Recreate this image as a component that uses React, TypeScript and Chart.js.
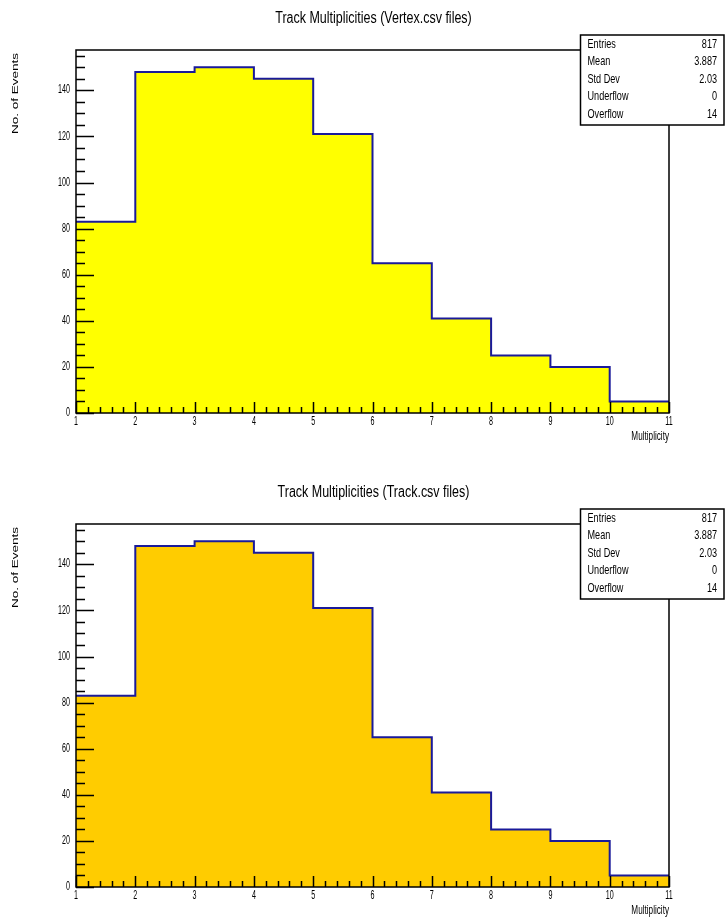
import React, { useEffect, useRef } from 'react';
import { Chart, registerables } from 'chart.js';

Chart.register(...registerables);

// ---------------- data ----------------
const binEdges = [1, 2, 3, 4, 5, 6, 7, 8, 9, 10, 11];
const vertexCounts = [83, 148, 150, 145, 121, 65, 41, 25, 20, 5];
const trackCounts = [83, 148, 150, 145, 121, 65, 41, 25, 20, 5];
const xTickLabels = ['1', '2', '3', '4', '5', '6', '7', '8', '9', '10', '11'];
const yTickLabels = ['0', '20', '40', '60', '80', '100', '120', '140'];
const statLabels = ['Entries', 'Mean', 'Std Dev', 'Underflow', 'Overflow'];
const vertexStats = ['817', '3.887', '2.03', '0', '14'];
const trackStats = ['817', '3.887', '2.03', '0', '14'];
const vertexTitle = 'Track Multiplicities (Vertex.csv files)';
const trackTitle = 'Track Multiplicities (Track.csv files)';
const xAxisTitle = 'Multiplicity';
const yAxisTitle = 'No. of Events';
const yMax = 157.5;
const xMinorDiv = 5;
const yMinorStep = 5;

const FONT = '"Liberation Sans", Arial, Helvetica, sans-serif';

function drawText(
  ctx: CanvasRenderingContext2D,
  text: string,
  x: number,
  y: number,
  size: number,
  align: CanvasTextAlign,
  sx: number,
) {
  ctx.save();
  ctx.translate(x, y);
  ctx.scale(sx, 1);
  ctx.font = `${size}px ${FONT}`;
  ctx.textAlign = align;
  ctx.textBaseline = 'middle';
  ctx.fillStyle = '#000';
  ctx.fillText(text, 0, 0);
  ctx.restore();
}

type HistProps = {
  counts: number[];
  stats: string[];
  title: string;
  fill: string;
  frameTop: number;
  frameBottom: number;
  height: number;
};

function Hist({ counts, stats, title, fill, frameTop, frameBottom, height }: HistProps) {
  const ref = useRef<HTMLCanvasElement | null>(null);

  useEffect(() => {
    if (!ref.current) return;
    const data = binEdges.map((x, i) => ({ x, y: counts[Math.min(i, counts.length - 1)] }));

    const rootPlugin = {
      id: 'rootStyle',
      beforeDraw(chart: any) {
        const ctx = chart.ctx as CanvasRenderingContext2D;
        ctx.save();
        ctx.fillStyle = '#fff';
        ctx.fillRect(0, 0, chart.width, chart.height);
        ctx.restore();
      },
      afterDatasetsDraw(chart: any) {
        const ctx = chart.ctx as CanvasRenderingContext2D;
        const { left, right, top, bottom } = chart.chartArea;
        const xs = chart.scales.x;
        const ys = chart.scales.y;
        ctx.save();
        ctx.strokeStyle = '#000';
        ctx.lineWidth = 1.5;
        ctx.beginPath();
        ctx.rect(left, top, right - left, bottom - top);
        ctx.stroke();

        // x ticks (inside frame)
        const x0 = Number(xTickLabels[0]);
        const x1 = Number(xTickLabels[xTickLabels.length - 1]);
        const nX = (x1 - x0) * xMinorDiv;
        ctx.beginPath();
        for (let i = 0; i <= nX; i++) {
          const v = x0 + i / xMinorDiv;
          const px = Math.round(xs.getPixelForValue(v)) + 0.5;
          const len = i % xMinorDiv === 0 ? 11 : 6;
          ctx.moveTo(px, bottom);
          ctx.lineTo(px, bottom - len);
        }
        // y ticks
        for (let v = 0; v <= yMax; v += yMinorStep) {
          const py = Math.round(ys.getPixelForValue(v)) + 0.5;
          const major = yTickLabels.includes(String(v));
          const len = major ? 18 : 9;
          ctx.moveTo(left, py);
          ctx.lineTo(left + len, py);
        }
        ctx.stroke();
        ctx.restore();

        // tick labels
        xTickLabels.forEach((t) => {
          drawText(ctx, t, xs.getPixelForValue(Number(t)), bottom + 8.5, 13, 'center', 0.55);
        });
        yTickLabels.forEach((t) => {
          drawText(ctx, t, left - 6, ys.getPixelForValue(Number(t)) - 0.5, 13, 'right', 0.55);
        });
      },
      afterDraw(chart: any) {
        const ctx = chart.ctx as CanvasRenderingContext2D;
        const { left, right, top, bottom } = chart.chartArea;
        // title
        drawText(ctx, title, (left + right) / 2 + 1, top - 31, 16, 'center', 0.78);
        // x axis title
        drawText(ctx, xAxisTitle, right, bottom + 24, 12, 'right', 0.68);
        // y axis title
        ctx.save();
        ctx.translate(15.5, top + 3);
        ctx.rotate(-Math.PI / 2);
        ctx.scale(1.5, 1);
        ctx.font = `9px ${FONT}`;
        ctx.textAlign = 'right';
        ctx.textBaseline = 'middle';
        ctx.fillStyle = '#000';
        ctx.fillText(yAxisTitle, 0, 0);
        ctx.restore();

        // stats box
        const bx = 580.5;
        const by = top - 15;
        const bw = 143.5;
        const bh = 90;
        ctx.save();
        ctx.fillStyle = '#fff';
        ctx.fillRect(bx, by, bw, bh);
        ctx.strokeStyle = '#000';
        ctx.lineWidth = 1.5;
        ctx.strokeRect(bx, by, bw, bh);
        ctx.restore();
        statLabels.forEach((lab, i) => {
          const y = by + 9 + i * 17.5;
          drawText(ctx, lab, bx + 7, y, 13, 'left', 0.7);
          drawText(ctx, stats[i], bx + bw - 7, y, 13, 'right', 0.7);
        });
      },
    };

    const chart = new Chart(ref.current, {
      type: 'line',
      data: {
        datasets: [
          {
            data,
            stepped: 'before',
            fill: 'origin',
            backgroundColor: fill,
            borderColor: '#1a1a9a',
            borderWidth: 2,
            pointRadius: 0,
            pointHoverRadius: 0,
          } as any,
        ],
      },
      options: {
        animation: false,
        responsive: false,
        devicePixelRatio: 1,
        layout: {
          padding: { left: 76, right: 726 - 669, top: frameTop, bottom: height - frameBottom },
        },
        plugins: {
          legend: { display: false },
          tooltip: { enabled: false },
          title: { display: false },
        },
        scales: {
          x: {
            type: 'linear',
            display: false,
            min: Number(xTickLabels[0]),
            max: Number(xTickLabels[xTickLabels.length - 1]),
            afterBuildTicks: (s: any) => {
              s.ticks = xTickLabels.map((t) => ({ value: Number(t) }));
            },
          },
          y: {
            type: 'linear',
            display: false,
            min: 0,
            max: yMax,
            afterBuildTicks: (s: any) => {
              s.ticks = yTickLabels.map((t) => ({ value: Number(t) }));
            },
          },
        },
      },
      plugins: [rootPlugin],
    });
    return () => chart.destroy();
  }, [counts, stats, title, fill, frameTop, frameBottom, height]);

  return <canvas ref={ref} width={726} height={height} style={{ display: 'block', width: 726, height }} />;
}

export default function App() {
  return (
    <div style={{ position: 'fixed', left: 0, top: 0, width: 726, height: 918, background: '#fff' }}>
      <Hist
        counts={vertexCounts}
        stats={vertexStats}
        title={vertexTitle}
        fill="#ffff00"
        frameTop={50}
        frameBottom={413}
        height={459}
      />
      <Hist
        counts={trackCounts}
        stats={trackStats}
        title={trackTitle}
        fill="#ffcc00"
        frameTop={65}
        frameBottom={428}
        height={459}
      />
    </div>
  );
}
